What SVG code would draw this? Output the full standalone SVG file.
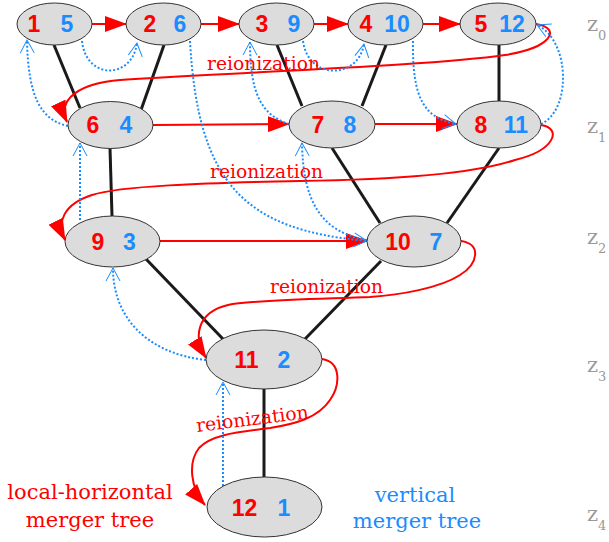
<svg xmlns="http://www.w3.org/2000/svg" width="609" height="542" viewBox="0 0 609 542">
  <defs>
    <marker id="redHead" markerUnits="userSpaceOnUse" markerWidth="22" markerHeight="16" viewBox="0 0 22 16" refX="21" refY="8" orient="auto">
      <path d="M0,0 L22,8 L0,16 z" fill="#ff0000"/>
    </marker>
    <marker id="blueHead" markerUnits="userSpaceOnUse" markerWidth="16" markerHeight="18" viewBox="-14 -9 16 18" refX="0" refY="0" orient="auto">
      <path d="M-13,-7 L0,0 L-13,7" fill="none" stroke="#1a8cff" stroke-width="1"/>
    </marker>
    <style>
      .node ellipse { fill: #dcdcdc; stroke: #333333; stroke-width: 1; }
      .num { font-family: "Liberation Sans", Arial, sans-serif; font-weight: bold; font-size: 23px; text-anchor: middle; }
      .r { fill: #ff0000; }
      .b { fill: #1a8cff; }
      .tree { stroke: #1a1a1a; stroke-width: 3; fill: none; }
      .hor { stroke: #ff0000; stroke-width: 2; fill: none; marker-end: url(#redHead); }
      .ver { stroke: #1a8cff; stroke-width: 2; fill: none; stroke-dasharray: 2 2; marker-end: url(#blueHead); }
      .lbl { font-family: "DejaVu Serif", serif; font-size: 18.7px; fill: #ff0000; }
      .cap { font-family: "DejaVu Serif", serif; font-size: 21px; text-anchor: middle; }
      .z { font-family: "DejaVu Serif", serif; font-size: 21px; fill: #999999; }
      .zs { font-size: 13px; }
    </style>
  </defs>

  <!-- progenitor links of the tree -->
  <g id="tree-links">
    <line class="tree" x1="54" y1="45" x2="80" y2="108"/>
    <line class="tree" x1="164" y1="45" x2="141" y2="110"/>
    <line class="tree" x1="277" y1="45" x2="302" y2="106"/>
    <line class="tree" x1="386" y1="45" x2="362" y2="106"/>
    <line class="tree" x1="499" y1="45" x2="499" y2="101"/>
    <line class="tree" x1="110" y1="148" x2="112" y2="216"/>
    <line class="tree" x1="332" y1="148" x2="380" y2="223"/>
    <line class="tree" x1="499" y1="148" x2="447" y2="223"/>
    <line class="tree" x1="146" y1="259" x2="223" y2="339"/>
    <line class="tree" x1="381" y1="261" x2="305" y2="339"/>
    <line class="tree" x1="264" y1="389" x2="264" y2="477"/>
  </g>

  <!-- local-horizontal ordering (red) -->
  <g id="horizontal-links">
    <path class="hor" d="M92,24 L126,24"/>
    <path class="hor" d="M201,24 L239,24"/>
    <path class="hor" d="M314,24 L348,24"/>
    <path class="hor" d="M423,24 L460,24"/>
    <path class="hor" d="M153,125 L289,124"/>
    <path class="hor" d="M375,124 L457,124"/>
    <path class="hor" d="M160,241 L367,241"/>
    <path class="hor" d="M536,24 C562,28 552,48 505,55 C430,66 240,72 120,80 C82,83 56,98 67,122"/>
    <path class="hor" d="M541,125 C562,128 556,150 515,160 C470,175 380,180 300,181 C200,183 120,186 92,195 C64,204 56,222 65,240"/>
    <path class="hor" d="M461,241 C482,244 478,264 460,275 C440,288 400,295 370,297 C320,299 250,300 228,305 C198,312 192,336 206,358"/>
    <path class="hor" d="M322,359 C342,362 340,386 330,400 C318,418 295,424 270,428 C240,432 212,434 199,448 C188,462 190,488 205,505"/>
  </g>

  <!-- vertical ordering (blue, dotted) -->
  <g id="vertical-links">
    <path class="ver" d="M223,486 L223,382"/>
    <path class="ver" d="M206,360 C150,354 113,320 113,268"/>
    <path class="ver" d="M80,220 L80,143"/>
    <path class="ver" d="M68,126 C40,120 28,95 27,40"/>
    <path class="ver" d="M82,41 C86,80 132,80 137,43"/>
    <path class="ver" d="M190,41 C198,185 245,230 367,241"/>
    <path class="ver" d="M367,240 C320,232 303,200 302,143"/>
    <path class="ver" d="M289,124 C262,115 250,95 250,42"/>
    <path class="ver" d="M303,41 C308,80 358,80 364,44"/>
    <path class="ver" d="M413,41 C412,100 425,118 456,124"/>
    <path class="ver" d="M541,124 C572,110 570,40 537,25"/>
  </g>

  <!-- reionization labels -->
  <g id="labels">
    <text class="lbl" x="207" y="70">reionization</text>
    <text class="lbl" x="210" y="178">reionization</text>
    <text class="lbl" x="270" y="293">reionization</text>
    <text class="lbl" x="197" y="432" transform="rotate(-7 197 432)">reionization</text>
    <text class="cap r" x="90" y="499">local-horizontal</text>
    <text class="cap r" x="90" y="527">merger tree</text>
    <text class="cap b" x="415" y="502">vertical</text>
    <text class="cap b" x="417" y="528">merger tree</text>
  </g>

  <!-- redshift axis -->
  <g id="redshifts">
    <text class="z" x="587" y="31">z<tspan class="zs" dy="9">0</tspan></text>
    <text class="z" x="587" y="133">z<tspan class="zs" dy="9">1</tspan></text>
    <text class="z" x="587" y="244">z<tspan class="zs" dy="9">2</tspan></text>
    <text class="z" x="587" y="372">z<tspan class="zs" dy="9">3</tspan></text>
    <text class="z" x="587" y="521">z<tspan class="zs" dy="9">4</tspan></text>
  </g>

  <!-- halos: red = horizontal index, blue = vertical index -->
  <g id="n1" class="node"><ellipse cx="54.5" cy="24" rx="37.5" ry="21"/><text class="num r" x="34" y="32">1</text><text class="num b" x="67" y="32">5</text></g>
  <g id="n2" class="node"><ellipse cx="163.5" cy="24" rx="37.5" ry="21"/><text class="num r" x="150" y="32">2</text><text class="num b" x="180" y="32">6</text></g>
  <g id="n3" class="node"><ellipse cx="276.5" cy="24" rx="37.5" ry="21"/><text class="num r" x="262" y="32">3</text><text class="num b" x="294" y="32">9</text></g>
  <g id="n4" class="node"><ellipse cx="385.5" cy="24" rx="37.5" ry="21"/><text class="num r" x="366" y="32">4</text><text class="num b" x="397" y="32">10</text></g>
  <g id="n5" class="node"><ellipse cx="498" cy="24" rx="38" ry="21"/><text class="num r" x="481" y="32">5</text><text class="num b" x="512" y="32">12</text></g>
  <g id="n6" class="node"><ellipse cx="110.5" cy="125" rx="42.5" ry="23.5"/><text class="num r" x="93" y="133">6</text><text class="num b" x="126" y="133">4</text></g>
  <g id="n7" class="node"><ellipse cx="332" cy="124.5" rx="43" ry="23.5"/><text class="num r" x="318" y="133">7</text><text class="num b" x="350" y="133">8</text></g>
  <g id="n8" class="node"><ellipse cx="499" cy="124.5" rx="42" ry="23.5"/><text class="num r" x="481" y="133">8</text><text class="num b" x="516" y="133">11</text></g>
  <g id="n9" class="node"><ellipse cx="112.5" cy="241.5" rx="47.5" ry="25.5"/><text class="num r" x="98" y="250">9</text><text class="num b" x="129.5" y="250">3</text></g>
  <g id="n10" class="node"><ellipse cx="414" cy="241.5" rx="47" ry="25.5"/><text class="num r" x="398" y="250">10</text><text class="num b" x="436" y="250">7</text></g>
  <g id="n11" class="node"><ellipse cx="264" cy="359.5" rx="58" ry="29.5"/><text class="num r" x="246.5" y="368">11</text><text class="num b" x="284" y="368">2</text></g>
  <g id="n12" class="node"><ellipse cx="264.5" cy="507" rx="57.5" ry="30"/><text class="num r" x="244.5" y="516">12</text><text class="num b" x="284" y="516">1</text></g>
</svg>
